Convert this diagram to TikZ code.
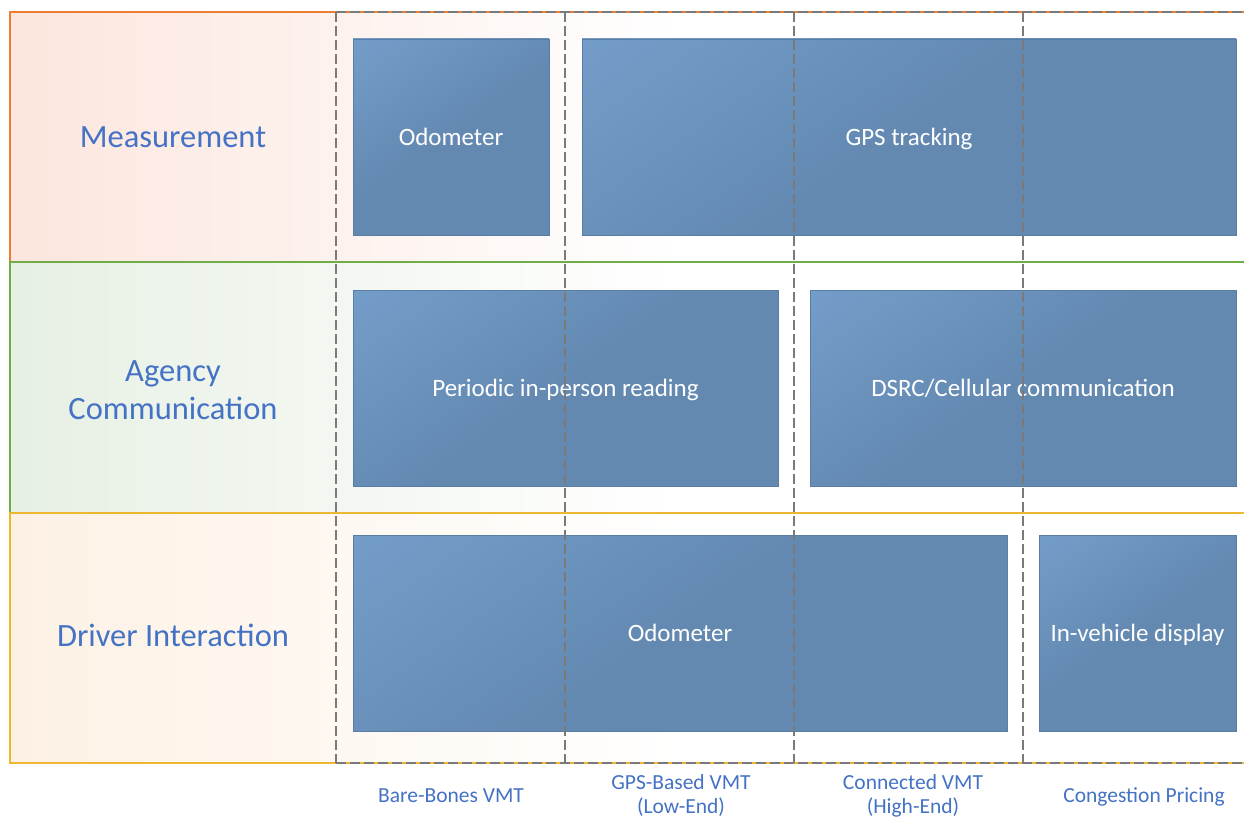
\documentclass[tikz,border=0pt]{standalone}
\usepackage{fontspec}
\setmainfont{Carlito}
\definecolor{boxlight}{HTML}{7AA6D3}
\definecolor{boxdark}{HTML}{6389B1}
\definecolor{boxedge}{HTML}{5A7DA5}
\definecolor{labelblue}{HTML}{4472C4}
\definecolor{rowone}{HTML}{FCE6DE}
\definecolor{rowtwo}{HTML}{E7F0E4}
\definecolor{rowthree}{HTML}{FDF1E4}
\definecolor{lineone}{HTML}{ED7D31}
\definecolor{linetwo}{HTML}{70AD47}
\definecolor{linethree}{HTML}{EDB732}
\definecolor{gridgray}{HTML}{7A7A7A}
\pgfdeclareverticalshading{boxgrad}{100bp}{color(0bp)=(boxdark); color(50bp)=(boxdark); color(100bp)=(boxlight)}
\tikzset{
  stagebox/.style={draw=boxedge, line width=0.8pt, shading=boxgrad, shading angle=35,
    rectangle, inner sep=0pt, minimum height=196pt, text=white,
    text height=17.5pt, text depth=0pt,
    font=\fontsize{25}{30}\selectfont},
  rowlabel/.style={text=labelblue, align=center, font=\fontsize{32.5}{38}\selectfont},
  collabel/.style={text=labelblue, align=center, font=\fontsize{21.5}{24}\selectfont},
  gridline/.style={draw=gridgray, line width=1.5pt, dash pattern=on 10pt off 4pt},
}
\begin{document}
\begin{tikzpicture}[x=1pt,y=-1pt]
\useasboundingbox (0,0) rectangle (1244,816);
\clip (0,0) rectangle (1244,816);
\fill[white] (0,0) rectangle (1244,816);
% row backgrounds
\shade[left color=rowone, right color=white] (10,12) rectangle (680,262);
\shade[left color=rowtwo, right color=white] (10,262) rectangle (680,513);
\shade[left color=rowthree, right color=white] (10,513) rectangle (680,763);
\draw[lineone, line width=1.2pt] (1260,12) -- (10,12) -- (10,262);
\draw[linetwo, line width=1.2pt] (1260,262) -- (10,262) -- (10,513);
\draw[linethree, line width=1.2pt] (1260,513) -- (10,513) -- (10,763) -- (1260,763);
% row labels
\node[rowlabel] (meas) at (173,137) {Measurement};
\node[rowlabel] (comm) at (173,390) {Agency\\Communication};
\node[rowlabel] (drv) at (173,635) {Driver Interaction};
% boxes
\node[stagebox, minimum width=196pt] (odo1) at (451,137) {Odometer};
\node[stagebox, minimum width=654pt] (gps) at (909,137) {GPS tracking};
\node[stagebox, minimum width=425pt] (per) at (565.5,388) {Periodic in-person reading};
\node[stagebox, minimum width=426pt] (dsrc) at (1023,388) {DSRC/Cellular communication};
\node[stagebox, minimum width=654pt] (odo2) at (680,633) {Odometer};
\node[stagebox, minimum width=197pt] (disp) at (1137.5,633) {In-vehicle display};
% column grid
\coordinate (c1t) at (336,12); \coordinate (c1b) at (336,763);
\coordinate (c2t) at (565,12); \coordinate (c2b) at (565,763);
\coordinate (c3t) at (794,12); \coordinate (c3b) at (794,763);
\coordinate (c4t) at (1023,12); \coordinate (c4b) at (1023,763);
\coordinate (c5t) at (1260,12); \coordinate (c5b) at (1260,763);
\draw[gridline] (c1t) -- (c5t);
\draw[gridline] (c1b) -- (c5b);
\draw[gridline] (c1t) -- (c1b);
\draw[gridline] (c2t) -- (c2b);
\draw[gridline] (c3t) -- (c3b);
\draw[gridline] (c4t) -- (c4b);
% column labels
\node[collabel] (bare) at (451,796) {Bare-Bones VMT};
\node[collabel] (gpsv) at (681,796) {GPS-Based VMT\\(Low-End)};
\node[collabel] (conn) at (913,796) {Connected VMT\\(High-End)};
\node[collabel] (cong) at (1144,797) {Congestion Pricing};
\end{tikzpicture}
\end{document}
